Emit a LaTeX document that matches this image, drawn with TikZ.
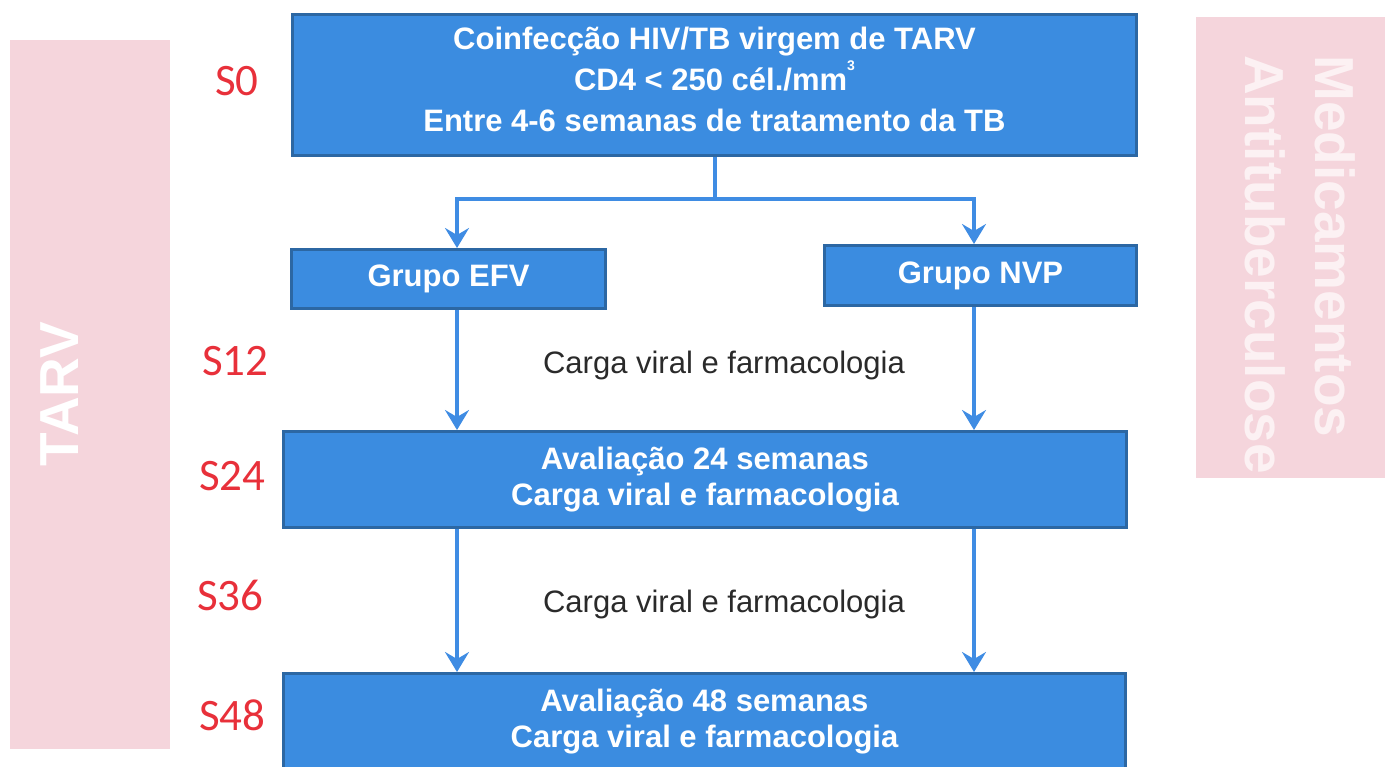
\documentclass[tikz,border=0pt]{standalone}
\usepackage{fontspec}
\setmainfont{Liberation Sans}
\newfontfamily\calibfont{Carlito}
\usetikzlibrary{arrows.meta}
\definecolor{boxfill}{HTML}{3B8CE0}
\definecolor{boxline}{HTML}{2C67A3}
\definecolor{arrowc}{HTML}{3F8CE3}
\definecolor{labred}{HTML}{E8303A}
\definecolor{banner}{HTML}{F5D5DC}
\definecolor{bannertext}{HTML}{FCF1F3}
\definecolor{notegrey}{HTML}{2A2A2A}
\begin{document}
\begin{tikzpicture}[x=1pt,y=-1pt,
  box/.style={draw=boxline, fill=boxfill, line width=3pt, text=white,
    font=\bfseries\fontsize{31}{36}\selectfont, align=center, inner sep=0pt},
  arr/.style={draw=arrowc, line width=3.2pt, -{Stealth[length=20pt,width=24pt,inset=7pt]}},
  conn/.style={draw=arrowc, line width=3.2pt},
  wk/.style={text=labred, font=\calibfont\fontsize{45}{45}\selectfont, anchor=base west, inner sep=0pt},
  note/.style={text=notegrey, font=\fontsize{31}{36}\selectfont, anchor=base, inner sep=0pt},
  bannerbox/.style={fill=banner, draw=none, inner sep=0pt},
  bannerlab/.style={font=\bfseries\fontsize{55}{70}\selectfont, inner sep=0pt},
]
\useasboundingbox (0,0) rectangle (1390,766);
% side banners
\node[bannerbox, minimum width=160, minimum height=709, anchor=north west] (tarvband) at (10,40) {};
\node[bannerlab, text=white, rotate=90] (tarv) at (60,394) {TARV};
\node[bannerbox, minimum width=189, minimum height=461, anchor=north west] (medband) at (1196,17) {};
\node[bannerlab, text=bannertext, rotate=-90, anchor=base west] (med) at (1315,55) {Medicamentos};
\node[bannerlab, text=bannertext, rotate=-90, anchor=base west] (anti) at (1245,55) {Antituberculose};
% boxes
\node[box, minimum width=844, minimum height=141, font=\bfseries\fontsize{31}{41}\selectfont] (top) at (714.5,85)
 {Coinfecção HIV/TB virgem de TARV\\CD4 < 250 cél./mm\smash{\raisebox{20pt}{\fontsize{14}{14}\selectfont 3}}\\Entre 4-6 semanas de tratamento da TB\rule[-11pt]{0pt}{0pt}};
\node[box, minimum width=314, minimum height=59] (efv) at (448.5,279) {Grupo EFV};
\node[box, minimum width=312, minimum height=60] (nvp) at (980.5,275.5) {Grupo NVP};
\node[box, minimum width=843, minimum height=96] (s24) at (705,479.5) {Avaliação 24 semanas\\Carga viral e farmacologia};
\node[box, minimum width=842, minimum height=97] (s48) at (704.5,722) {Avaliação 48 semanas\\Carga viral e farmacologia};
% week labels
\node[wk] (w0) at (215,95) {S0};
\node[wk] (w12) at (202,375) {S12};
\node[wk] (w24) at (199,490) {S24};
\node[wk] (w36) at (197,610) {S36};
\node[wk] (w48) at (199,730) {S48};
% notes
\node[note] (n12) at (724,373) {Carga viral e farmacologia};
\node[note] (n36) at (724,612) {Carga viral e farmacologia};
% connectors
\coordinate (xl) at (457,0);
\coordinate (xr) at (974,0);
\coordinate (split) at (715,199);
\draw[conn] (top.south -| split) -- (split);
\draw[arr] (split) -| (efv.north -| xl);
\draw[arr] (split) -| (nvp.north -| xr);
\draw[arr] (efv.south -| xl) -- (s24.north -| xl);
\draw[arr] (nvp.south -| xr) -- (s24.north -| xr);
\draw[arr] (s24.south -| xl) -- (s48.north -| xl);
\draw[arr] (s24.south -| xr) -- (s48.north -| xr);
\end{tikzpicture}
\end{document}
